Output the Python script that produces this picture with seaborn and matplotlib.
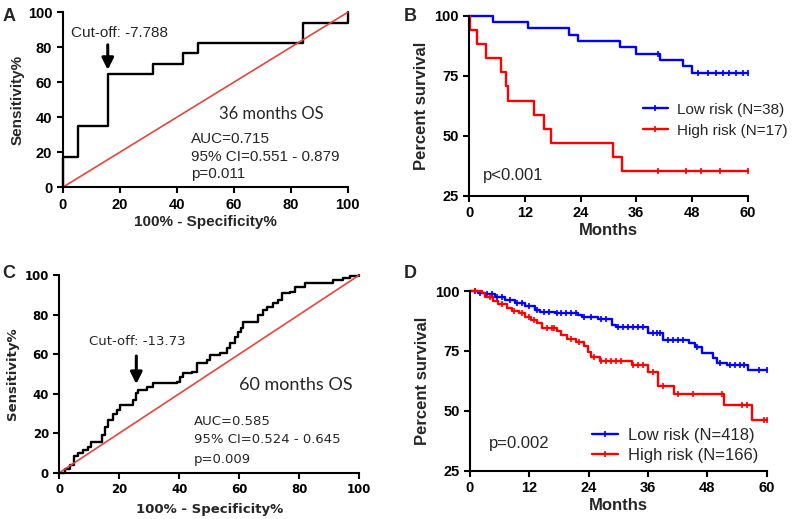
import numpy as np
import pandas as pd
import matplotlib
matplotlib.use('Agg')
import matplotlib.pyplot as plt
from matplotlib.lines import Line2D
import seaborn as sns

# ---- panel A: ROC 36 months ----
roc36_fpr = [0, 0, 5.3, 15.8, 31.6, 42.1, 47.4, 84.2, 100]
roc36_tpr = [0, 17.6, 35.3, 64.7, 70.6, 76.5, 82.4, 94.1, 100]

# ---- panel C: ROC 60 months ----
roc60_fpr = [0, 1.9, 3.6, 4.9, 5.0, 6.3, 8.0, 9.7, 10.5, 13.3, 14.1, 15.2, 16.3, 18.0, 19.1,
             20.2, 23.6, 24.7, 25.6, 26.4, 29.1, 31.4, 35.8, 39.2, 40.3, 41.4, 44.2, 45.8,
             49.2, 50.3, 53.6, 55.8, 56.9, 58.6, 59.7, 60.8, 61.4, 64.7, 66.4, 68.1, 69.2,
             71.4, 73.0, 74.2, 77.0, 78.6, 81.9, 89.8, 91.4, 94.8, 97.0, 100]
roc60_tpr = [0, 1.7, 3.9, 6.4, 8.4, 9.8, 11.5, 13.2, 15.7, 15.7, 19.1, 23.3, 26.7, 29.7, 31.8,
             34.3, 34.3, 36.8, 40.2, 41.9, 43.6, 45.3, 45.3, 46.1, 48.6, 50.3, 51.2, 55.4,
             57.1, 59.6, 60.5, 63.0, 65.5, 68.9, 71.5, 73.1, 76.5, 76.5, 79.9, 82.4, 84.1,
             85.8, 87.5, 90.9, 91.7, 94.3, 95.9, 95.9, 97.6, 98.5, 99.7, 100]

# ---- panel B: KM, 36-month cohort ----
b_low_t = [0, 5.2, 12.6, 21.4, 23.4, 32.5, 35.9, 41.0, 46.1, 48.1, 60]
b_low_s = [100, 97.4, 94.7, 92.1, 89.5, 86.8, 84.2, 81.6, 78.9, 76.0, 76.0]
b_low_cens = [40.6, 49.3, 51.5, 53.2, 54.6, 56.0, 57.5, 59.0, 60]
b_high_t = [0, 0.2, 1.6, 3.7, 6.8, 7.9, 8.3, 13.9, 16.2, 17.6, 30.9, 33.0, 60]
b_high_s = [100, 94.1, 88.2, 82.4, 76.5, 70.6, 64.7, 58.8, 52.9, 47.1, 41.2, 35.3, 35.3]
b_high_cens = [40.7, 46.8, 50.0, 54.0, 60]

# ---- panel D: KM, 60-month cohort ----
d_low_t = [0, 1.7, 3.0, 5.0, 7.1, 9.1, 11.1, 13.1, 14.2, 17.2, 21.9, 22.6, 25.9, 28.8, 29.5,
           35.9, 39.0, 44.2, 45.5, 47.0, 49.2, 49.9, 51.9, 56.2, 60]
d_low_s = [100, 99.3, 98.7, 97.6, 96.3, 95.1, 93.8, 92.0, 91.2, 90.7, 90.0, 89.0, 88.2, 86.0, 85.1,
           82.4, 79.6, 78.2, 76.5, 74.3, 72.0, 70.1, 69.2, 67.1, 67.1]
d_low_cens = [1, 2, 3.5, 4.5, 5.5, 6.5, 8, 9.5, 10.5, 12, 13.5, 15, 16, 17.5, 18.5, 19.5, 20.5,
              21.5, 23, 24.5, 26.5, 27.5, 30, 31, 32, 33, 34, 35, 37, 37.8, 38.5, 40, 41, 42,
              43, 46, 50.5, 52.5, 53.5, 54.5, 55.5, 58.5, 60]
d_high_t = [0, 2.4, 3.0, 4.7, 5.7, 7.4, 8.4, 9.9, 11.1, 12.4, 13.6, 14.6, 17.5, 18.5, 19.7, 21.5,
            23.0, 23.9, 24.4, 26.2, 32.7, 35.9, 38.1, 41.3, 51.4, 57.0, 60]
d_high_s = [100, 99.0, 97.4, 96.0, 94.5, 92.8, 91.6, 91.0, 89.3, 87.9, 86.5, 84.6, 83.5, 81.5, 80.0,
            78.6, 77.0, 74.5, 72.3, 70.8, 69.2, 66.4, 60.4, 57.1, 52.5, 46.2, 46.2]
d_high_cens = [1, 4, 6.5, 9, 10.5, 12, 13, 15.5, 16.5, 17, 20.5, 22, 25, 26.5, 27.5, 28.5, 29.5,
               30.5, 33, 34, 35, 37, 39, 42, 45, 51, 55, 56, 59.5, 60]

LOW = '#0000ff'
HIGH = '#ff0000'

sns.set_style('ticks')
plt.rcParams['font.family'] = ['Liberation Sans', 'DejaVu Sans']

fig = plt.figure(figsize=(7.97, 5.19), dpi=100)
axA = fig.add_axes([0.0787, 0.6391, 0.3576, 0.3372])
axB = fig.add_axes([0.5888, 0.6224, 0.3493, 0.3473])
axC = fig.add_axes([0.0744, 0.0892, 0.3760, 0.3804])
axD = fig.add_axes([0.5897, 0.0925, 0.3723, 0.3468])


def style_axes(ax, size=10, family='Liberation Sans'):
    sns.despine(ax=ax)
    for sp in ['left', 'bottom']:
        ax.spines[sp].set_linewidth(1.5)
        ax.spines[sp].set_color('black')
    ax.tick_params(direction='out', length=4, width=1.5, colors='black', labelsize=size)
    for lab in ax.get_xticklabels() + ax.get_yticklabels():
        lab.set_fontweight('bold')
        lab.set_family(family)


def roc_panel(ax, fpr, tpr):
    df = pd.DataFrame({'fpr': fpr, 'tpr': tpr})
    sns.lineplot(data=df, x='fpr', y='tpr', ax=ax, color='black', lw=1.7,
                 drawstyle='steps-post', estimator=None, sort=False, clip_on=False)
    ref = pd.DataFrame({'x': [0, 100], 'y': [0, 100]})
    sns.lineplot(data=ref, x='x', y='y', ax=ax, color='#e2463e', lw=1.2, clip_on=False)
    ax.set_xlim(0, 100)
    ax.set_ylim(0, 100)
    ax.set_xticks(range(0, 101, 20))
    ax.set_yticks(range(0, 101, 20))


def km_curve(ax, t, s, cens, color, label):
    df = pd.DataFrame({'t': t, 's': s})
    sns.lineplot(data=df, x='t', y='s', ax=ax, color=color, lw=1.7,
                 drawstyle='steps-post', estimator=None, sort=False, clip_on=False)
    idx = np.searchsorted(t, cens, side='right') - 1
    cdf = pd.DataFrame({'t': cens, 's': np.asarray(s)[idx]})
    ax.plot(cdf['t'], cdf['s'], ls='none', marker='|', ms=5, mew=1.2, color=color, clip_on=False)
    return Line2D([], [], color=color, lw=1.7, marker='|', ms=5, mew=1.2, label=label)


def km_panel(ax):
    ax.set_xlim(0, 60)
    ax.set_ylim(25, 100)
    ax.set_xticks(range(0, 61, 12))
    ax.set_yticks(range(25, 101, 25))


# ---- A ----
roc_panel(axA, roc36_fpr, roc36_tpr)
style_axes(axA, 10.5)
axA.set_xlabel('100% - Specificity%', fontsize=11, fontweight='bold', labelpad=2)
axA.set_ylabel('Sensitivity%', fontsize=11, fontweight='bold', labelpad=2)
axA.text(3, 88, 'Cut-off: -7.788', fontsize=11, va='center')
axA.annotate('', xy=(15.8, 65.5), xytext=(15.8, 83),
             arrowprops=dict(arrowstyle='-|>,head_width=0.35,head_length=0.7', color='black', lw=2.2))
axA.text(73.3, 41.7, '36 months OS', fontsize=12, ha='center', va='center', family='Lato')
axA.text(44.9, 27.4, 'AUC=0.715', fontsize=11, va='center')
axA.text(44.9, 17.5, '95% CI=0.551 - 0.879', fontsize=11, va='center')
axA.text(44.9, 7.6, 'p=0.011', fontsize=11, va='center')

# ---- B ----
km_panel(axB)
h1 = km_curve(axB, b_low_t, b_low_s, b_low_cens, LOW, 'Low risk (N=38)')
h2 = km_curve(axB, b_high_t, b_high_s, b_high_cens, HIGH, 'High risk (N=17)')
style_axes(axB, 10.5)
axB.set_xlabel('Months', fontsize=12, fontweight='bold', labelpad=2)
axB.set_ylabel('Percent survival', fontsize=12, fontweight='bold', labelpad=4)
axB.legend(handles=[h1, h2], loc='center left', bbox_to_anchor=(0.625, 0.42), frameon=False,
           fontsize=11, handlelength=1.6, handletextpad=0.6, labelspacing=0.45, borderaxespad=0,
           borderpad=0)
axB.text(3, 33.5, 'p<0.001', fontsize=12, va='center')

# ---- C ----
roc_panel(axC, roc60_fpr, roc60_tpr)
style_axes(axC, 8.5, 'DejaVu Sans')
axC.set_xlabel('100% - Specificity%', fontsize=9.5, fontweight='bold', labelpad=5,
               family='DejaVu Sans')
axC.set_ylabel('Sensitivity%', fontsize=9.5, fontweight='bold', labelpad=4, family='DejaVu Sans')
axC.text(10, 66.7, 'Cut-off: -13.73', fontsize=9.5, va='center', family='DejaVu Sans')
axC.annotate('', xy=(25.7, 43.5), xytext=(25.7, 60.5),
             arrowprops=dict(arrowstyle='-|>,head_width=0.35,head_length=0.7', color='black', lw=2.2))
axC.text(79, 44.3, '60 months OS', fontsize=13, ha='center', va='center', family='Lato')
axC.text(45, 25.8, 'AUC=0.585', fontsize=9.5, va='center', family='DejaVu Sans')
axC.text(45, 16.6, '95% CI=0.524 - 0.645', fontsize=9.5, va='center', family='DejaVu Sans')
axC.text(45, 6.8, 'p=0.009', fontsize=9.5, va='center', family='DejaVu Sans')

# ---- D ----
km_panel(axD)
h3 = km_curve(axD, d_low_t, d_low_s, d_low_cens, LOW, 'Low risk (N=418)')
h4 = km_curve(axD, d_high_t, d_high_s, d_high_cens, HIGH, 'High risk (N=166)')
style_axes(axD, 10.5)
axD.set_xlabel('Months', fontsize=12, fontweight='bold', labelpad=2)
axD.set_ylabel('Percent survival', fontsize=12, fontweight='bold', labelpad=4)
axD.legend(handles=[h3, h4], loc='center left', bbox_to_anchor=(0.41, 0.14), frameon=False,
           fontsize=12, handlelength=1.6, handletextpad=0.6, labelspacing=0.3, borderaxespad=0,
           borderpad=0)
axD.text(3.8, 36.5, 'p=0.002', fontsize=12, va='center')

# panel letters
for lab, x, y in [('A', 0.003, 0.985), ('B', 0.506, 0.985), ('C', 0.003, 0.49), ('D', 0.506, 0.49)]:
    fig.text(x, y, lab, fontsize=13, fontweight='bold', va='top', ha='left')

fig.savefig('out.png', dpi=100)
